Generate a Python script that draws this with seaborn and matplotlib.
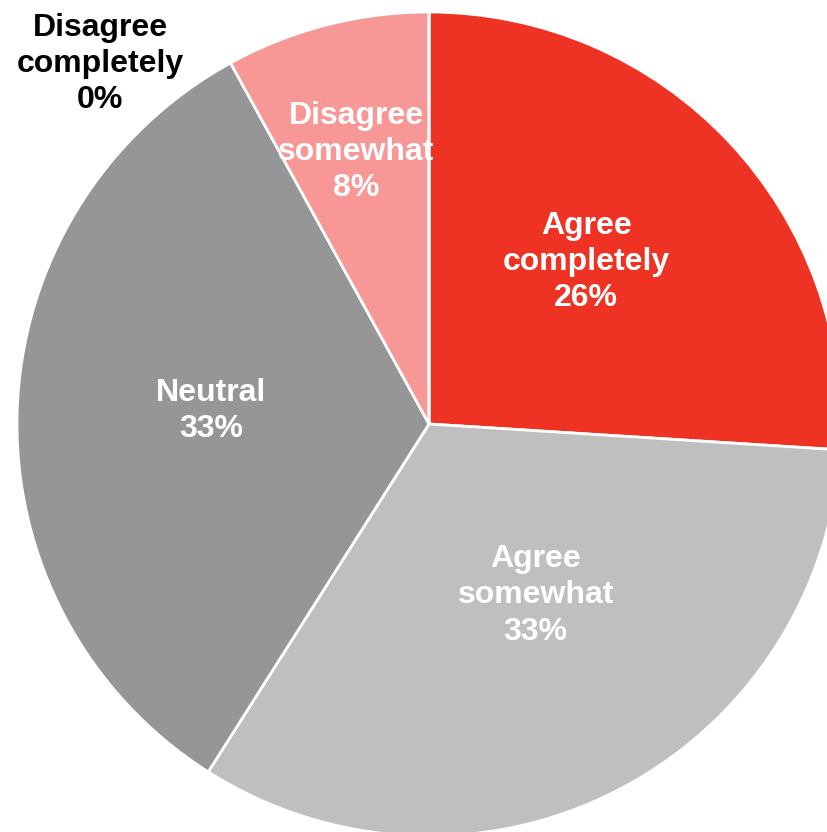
import numpy as np
import matplotlib
matplotlib.use("Agg")
import matplotlib.pyplot as plt
import seaborn as sns

categories = ["Agree completely", "Agree somewhat", "Neutral",
              "Disagree somewhat", "Disagree completely"]
display_labels = ["Agree\ncompletely", "Agree\nsomewhat", "Neutral",
                  "Disagree\nsomewhat", "Disagree\ncompletely"]
shares = [26, 33, 33, 8, 0]

colors = ["#EE3325", "#BFBFBF", "#969696", "#F79897", "#D9D9D9"]
# label placement in polar form: (fraction of radius, angle in degrees)
label_polar = [(0.548, 45.9), (0.49, -58.1), (0.53, 176.6),
               (0.683, 105.0), (1.184, 132.4)]
label_colors = ["white", "white", "white", "white", "black"]

sns.set_theme(style="white")
plt.rcParams["font.family"] = ["Liberation Sans", "DejaVu Sans"]

W, H = 828, 832
cx, cy, R = 429, 424, 412

fig = plt.figure(figsize=(W / 100, H / 100), dpi=100)
ax = fig.add_axes([0, 0, 1, 1])

wedges, _ = ax.pie(
    shares, colors=colors, startangle=90, counterclock=False, radius=1.0,
    wedgeprops=dict(edgecolor="white", linewidth=2),
)

ax.set_xlim(-cx / R, (W - cx) / R)
ax.set_ylim(-(H - cy) / R, cy / R)
ax.set_aspect("equal")
ax.axis("off")

for lab, val, (rr, deg), tc in zip(display_labels, shares, label_polar, label_colors):
    ang = np.deg2rad(deg)
    x, y = rr * np.cos(ang), rr * np.sin(ang)
    ax.text(x, y, f"{lab}\n{val}%", ha="center", va="center", fontsize=23,
            fontweight="bold", color=tc, linespacing=1.27)

fig.savefig("out.png", dpi=100)
